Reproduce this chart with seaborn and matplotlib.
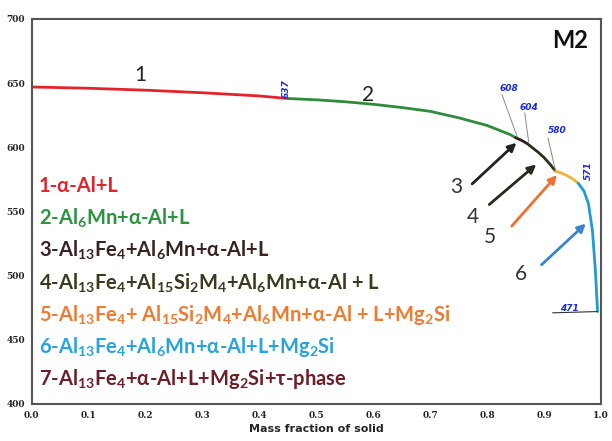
import matplotlib
matplotlib.use('Agg')
import matplotlib.pyplot as plt
import seaborn as sns
import pandas as pd

# solidification curve segments (mass fraction of solid, temperature)
seg1_x = [0.0, 0.1, 0.2, 0.3, 0.4, 0.45]
seg1_t = [647, 646, 644.5, 642.5, 640, 638]
seg2_x = [0.45, 0.5, 0.55, 0.6, 0.65, 0.7, 0.75, 0.8, 0.82, 0.84, 0.85]
seg2_t = [638, 637, 635.5, 633.5, 631, 628, 623, 617, 613.5, 610, 607.5]
seg3_x = [0.85, 0.86, 0.87]
seg3_t = [607.5, 605.5, 603]
seg4_x = [0.87, 0.88, 0.89, 0.9, 0.91, 0.92]
seg4_t = [603, 599.5, 596, 592, 587, 581.5]
seg5_x = [0.92, 0.93, 0.94, 0.95, 0.96]
seg5_t = [581.5, 580, 578, 575.5, 572]
seg6_x = [0.96, 0.97, 0.978, 0.985, 0.99, 0.994]
seg6_t = [572, 566, 556, 535, 505, 472]

seg_colors = ['#e3232c', '#2e8b3a', '#2a1a1a', '#2e2e1a', '#f2b237', '#2399d6']

legend_lines = [
    '1-α-Al+L',
    '2-Al$_6$Mn+α-Al+L',
    '3-Al$_{13}$Fe$_4$+Al$_6$Mn+α-Al+L',
    '4-Al$_{13}$Fe$_4$+Al$_{15}$Si$_2$M$_4$+Al$_6$Mn+α-Al + L',
    '5-Al$_{13}$Fe$_4$+ Al$_{15}$Si$_2$M$_4$+Al$_6$Mn+α-Al + L+Mg$_2$Si',
    '6-Al$_{13}$Fe$_4$+Al$_6$Mn+α-Al+L+Mg$_2$Si',
    '7-Al$_{13}$Fe$_4$+α-Al+L+Mg$_2$Si+τ-phase',
]
legend_colors = ['#e3232c', '#2a9440', '#3a2222', '#3c3a1e', '#f07a30', '#27a3e0', '#6e1e28']

# temperature labels: text, x, y, rotation
temp_labels = [('637', 0.447, 646, 90), ('608', 0.838, 646, 0), ('604', 0.874, 631, 0),
               ('580', 0.923, 613, 0), ('571', 0.978, 582, 90), ('471', 0.945, 474, 0)]

sns.set_style('white')
plt.rcParams['font.family'] = ['Lato', 'DejaVu Sans']
plt.rcParams['mathtext.fontset'] = 'custom'
plt.rcParams['mathtext.rm'] = 'Lato:bold'
plt.rcParams['mathtext.it'] = 'Lato:bold'
plt.rcParams['mathtext.bf'] = 'Lato:bold'

fig = plt.figure(figsize=(6.12, 4.41), dpi=100)
ax = fig.add_axes([0.052, 0.084, 0.93, 0.873])

segs = [(seg1_x, seg1_t), (seg2_x, seg2_t), (seg3_x, seg3_t),
        (seg4_x, seg4_t), (seg5_x, seg5_t), (seg6_x, seg6_t)]
for (sx, st), c in zip(segs, seg_colors):
    df = pd.DataFrame({'fs': sx, 'T': st})
    sns.lineplot(data=df, x='fs', y='T', ax=ax, color=c, lw=2, sort=False)

ax.set_xlim(0, 1.0)
ax.set_ylim(400, 700)
ax.set_xticks([i / 10 for i in range(11)])
ax.set_yticks(range(400, 701, 50))
ax.tick_params(axis='both', labelsize=6.5, length=3, direction='out', color='#555', pad=2)
for lab in ax.get_xticklabels() + ax.get_yticklabels():
    lab.set_fontweight('bold')
    lab.set_family('DejaVu Serif')
ax.set_xlabel('Mass fraction of solid', fontsize=8, fontweight='bold', labelpad=3,
              family='DejaVu Sans')
ax.set_ylabel('')
for s in ax.spines.values():
    s.set_color('#555555')
    s.set_linewidth(1.5)

# legend text block
for i, (txt, c) in enumerate(zip(legend_lines, legend_colors)):
    ax.text(0.012, 0.565 - i * 0.0835, txt, transform=ax.transAxes, color=c,
            fontsize=14.5, fontweight='bold', va='center', ha='left')

# segment numbers
ax.text(0.19, 656, '1', fontsize=15, color='#222', ha='center', va='center')
ax.text(0.59, 641, '2', fontsize=15, color='#222', ha='center', va='center')

arrows = [('3', (0.745, 569), (0.77, 570), (0.855, 605), '#222222'),
          ('4', (0.775, 546), (0.80, 554), (0.89, 588), '#2a2a1a'),
          ('5', (0.805, 530), (0.84, 537), (0.926, 580), '#f07030'),
          ('6', (0.86, 501), (0.892, 507), (0.977, 542), '#3a85d0')]
for lab, lp, a0, a1, c in arrows:
    ax.text(lp[0], lp[1], lab, fontsize=15, color='#333', ha='center', va='center')
    ax.annotate('', xy=a1, xytext=a0,
                arrowprops=dict(arrowstyle='-|>', color=c, lw=2, mutation_scale=12))

# temperature markers
for txt, x, y, rot in temp_labels:
    ax.text(x, y, txt, fontsize=6.5, color='#1a2adc', fontweight='bold',
            fontstyle='italic', rotation=rot, ha='center', va='center',
            family='DejaVu Sans')
ax.plot([0.826, 0.853], [641, 608], color='#888', lw=0.7)
ax.plot([0.866, 0.873], [627, 604], color='#888', lw=0.7)
ax.plot([0.907, 0.92], [607, 582], color='#888', lw=0.7)
ax.plot([0.915, 0.994], [471, 472], color='#333', lw=0.8)

ax.text(0.946, 683, 'M2', fontsize=17, fontweight='bold', color='#111',
        ha='center', va='center')

fig.savefig('out.png', dpi=100)
